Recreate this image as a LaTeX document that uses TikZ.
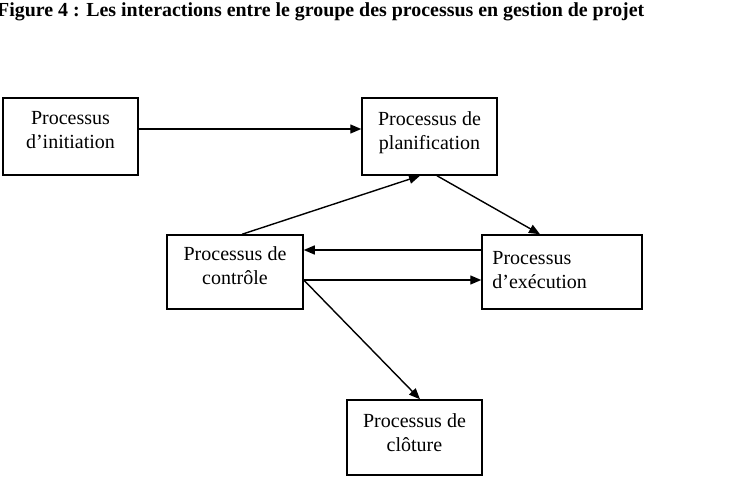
\documentclass[tikz,border=0pt]{standalone}
\usepackage{fontspec}
\setmainfont{Liberation Serif}
\usetikzlibrary{arrows.meta}
\begin{document}
\begin{tikzpicture}[x=1pt,y=-1pt,
  box/.style={draw, line width=1.5pt, inner sep=0pt, rectangle},
  txt/.style={inner sep=0pt, anchor=north, align=center, font=\fontsize{20}{24}\selectfont},
  txtl/.style={inner sep=0pt, anchor=north west, align=left, font=\fontsize{20}{24}\selectfont},
  conn/.style={line width=1.4pt, -{Triangle[length=11pt,width=9pt]}},
  ttl/.style={inner sep=0pt, anchor=base west, font=\bfseries\fontsize{19.9}{24}\selectfont}]
\useasboundingbox (0,0) rectangle (736,497);
\node[ttl] (title) at (-3,17) {Figure 4 : Les interactions entre le groupe des processus en gestion de projet};
% boxes
\node[box, minimum width=135pt, minimum height=77pt] (init) at (70.5,136.5) {};
\node[box, minimum width=135pt, minimum height=77pt] (plan) at (429.5,136.5) {};
\node[box, minimum width=136pt, minimum height=74pt] (ctrl) at (235,272) {};
\node[box, minimum width=160pt, minimum height=74pt] (exec) at (562,272) {};
\node[box, minimum width=135pt, minimum height=75pt] (clot) at (414.5,437.5) {};
% texts
\node[txt] (tinit) at ([yshift=-14pt]init.north) {Processus\\d’initiation};
\node[txt] (tplan) at ([yshift=-14pt]plan.north) {Processus de\\planification};
\node[txt] (tctrl) at ([yshift=-12pt]ctrl.north) {Processus de\\contrôle};
\node[txtl] (texec) at ([xshift=11pt,yshift=-17pt]exec.north west) {Processus\\d’exécution};
\node[txt] (tclot) at ([yshift=-14pt]clot.north) {Processus de\\clôture};
% connectors
\draw[conn] ([yshift=7.5pt]init.east) -- ([yshift=7.5pt]plan.west);
\draw[conn] ([xshift=7pt]ctrl.north) -- ([xshift=-9.5pt]plan.south);
\draw[conn] ([xshift=7.5pt]plan.south) -- ([xshift=-22pt]exec.north);
\draw[conn] ([yshift=22pt]exec.west) -- ([yshift=22pt]ctrl.east);
\draw[conn] ([yshift=-8pt]ctrl.east) -- ([yshift=-8pt]exec.west);
\draw[conn] ([yshift=-8pt]ctrl.east) -- ([xshift=5.5pt]clot.north);
\end{tikzpicture}
\end{document}
